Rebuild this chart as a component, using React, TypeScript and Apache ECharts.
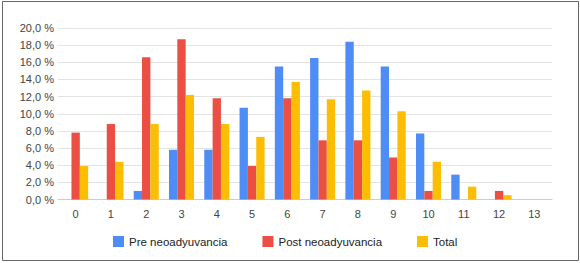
import React, { useEffect, useRef } from "react";
import * as echarts from "echarts";

const categories = ["0", "1", "2", "3", "4", "5", "6", "7", "8", "9", "10", "11", "12", "13"];
const preValues = [0, 0, 1.0, 5.8, 5.8, 10.7, 15.5, 16.5, 18.4, 15.5, 7.7, 2.9, 0, 0];
const postValues = [7.8, 8.8, 16.6, 18.7, 11.8, 3.9, 11.8, 6.9, 6.9, 4.9, 1.0, 0, 1.0, 0];
const totalValues = [3.9, 4.4, 8.8, 12.2, 8.8, 7.3, 13.7, 11.7, 12.7, 10.3, 4.4, 1.5, 0.5, 0];
const seriesNames = ["Pre neoadyuvancia", "Post neoadyuvancia", "Total"];
const colors = ["#4e8df5", "#eb4f43", "#fcbd05"];

export default function App() {
  const ref = useRef<HTMLDivElement>(null);
  useEffect(() => {
    if (!ref.current) return;
    const chart = echarts.init(ref.current, null, { renderer: "svg" });
    const font = "Liberation Sans, Arial, sans-serif";
    const data = [preValues, postValues, totalValues];
    chart.setOption({
      animation: false,
      backgroundColor: "#ffffff",
      color: colors,
      textStyle: { fontFamily: font },
      grid: { left: 58, right: 28, top: 28, bottom: 63.5, containLabel: false },
      graphic: [
        {
          type: "rect",
          shape: { x: 2.5, y: 1.5, width: 576, height: 259 },
          style: { fill: "none", stroke: "#666666", lineWidth: 1 },
          silent: true,
          z: 100,
        },
      ],
      legend: {
        data: seriesNames,
        left: 113,
        top: 235.5,
        padding: 0,
        itemWidth: 11,
        itemHeight: 11,
        itemGap: 35,
        icon: "rect",
        textStyle: { fontSize: 11.5, color: "#222222", fontFamily: font },
      },
      xAxis: {
        type: "category",
        data: categories,
        boundaryGap: true,
        axisTick: { show: false },
        axisLine: { show: true, lineStyle: { color: "#cccccc", width: 1 } },
        axisLabel: { color: "#444444", fontSize: 11, margin: 9, fontFamily: font, interval: 0 },
      },
      yAxis: {
        type: "value",
        min: 0,
        max: 20,
        interval: 2,
        axisLine: { show: false },
        axisTick: { show: false },
        splitLine: { show: true, lineStyle: { color: "#e3e3e3", width: 1 } },
        axisLabel: {
          color: "#444444",
          fontSize: 11,
          margin: 4,
          fontFamily: font,
          formatter: (v: number) => v.toFixed(1).replace(".", ",") + " %",
        },
      },
      series: seriesNames.map((name, i) => ({
        name,
        type: "bar",
        data: data[i],
        barGap: "0%",
        barCategoryGap: "29%",
        itemStyle: { color: colors[i] },
      })),
    });
    return () => chart.dispose();
  }, []);
  return (
    <div
      ref={ref}
      style={{ position: "fixed", left: 0, top: 0, width: 580, height: 263 }}
    />
  );
}
